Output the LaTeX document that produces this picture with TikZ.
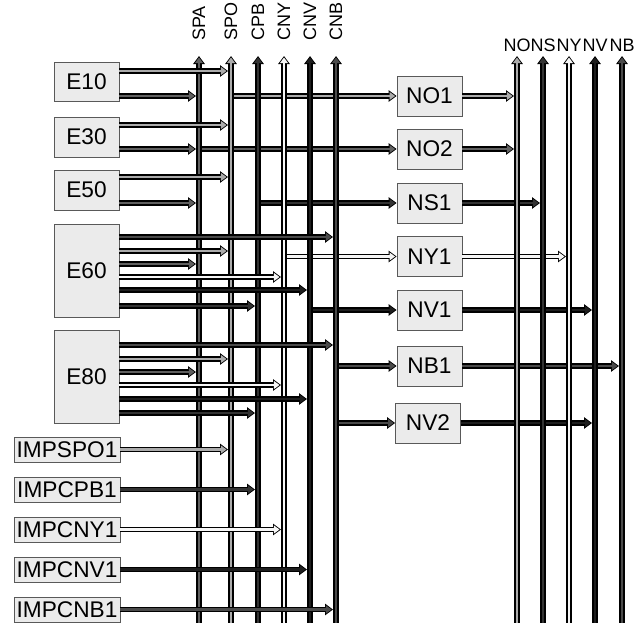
\documentclass[tikz,border=0pt]{standalone}
\usepackage{fontspec}
\setmainfont{Liberation Sans}
\usepackage{tikz}
\usetikzlibrary{arrows.meta}
\usepackage{xcolor}
\definecolor{cspa}{HTML}{606060}
\definecolor{cspo}{HTML}{ABABAB}
\definecolor{ccpb}{HTML}{333333}
\definecolor{ccny}{HTML}{F6F6F6}
\definecolor{ccnv}{HTML}{1E1E1E}
\definecolor{ccnb}{HTML}{4A4A4A}
\definecolor{boxgray}{HTML}{EBEBEB}

\begin{document}
\begin{tikzpicture}[
		x=0.75pt, y=-0.75pt,
		pipe/.style={
			preaction={draw=black, line width=3.9pt, shorten >=0pt,
				-{Triangle[length=6pt, width=8.4pt]}},
			draw=#1, line width=2.1pt, shorten >=1.1pt,
			-{Triangle[length=4.2pt, width=5.8pt]}},
		box/.style={draw=black!65, fill=boxgray, line width=0.6pt, inner sep=0pt,
			font=\fontsize{17}{20}\selectfont},
		lbl/.style={font=\fontsize{13.5}{15}\selectfont, inner sep=0pt}
	]

	\useasboundingbox (0,0) rectangle (634,622);

	\def\yTop{56}
	\def\tipgap{2.25pt}

	%% Bus positions
	\coordinate (SPA) at (199,\yTop);
	\coordinate (SPO) at (231,\yTop);
	\coordinate (CPB) at (258,\yTop);
	\coordinate (CNY) at (284,\yTop);
	\coordinate (CNV) at (310,\yTop);
	\coordinate (CNB) at (336,\yTop);
	\coordinate (NO) at (517,\yTop);
	\coordinate (NS) at (543,\yTop);
	\coordinate (NY) at (569,\yTop);
	\coordinate (NV) at (595,\yTop);
	\coordinate (NB) at (622,\yTop);
	\coordinate (bot) at (0,630);

	%% Bus labels
	\node[lbl, rotate=90, anchor=west] (tSPA) at (199,41) {SPA};
	\node[lbl, rotate=90, anchor=west] (tSPO) at (231,41) {SPO};
	\node[lbl, rotate=90, anchor=west] (tCPB) at (258,41) {CPB};
	\node[lbl, rotate=90, anchor=west] (tCNY) at (284,41) {CNY};
	\node[lbl, rotate=90, anchor=west] (tCNV) at (310,41) {CNV};
	\node[lbl, rotate=90, anchor=west] (tCNB) at (336,41) {CNB};
	\node[lbl] (tNO) at (517,45.5) {NO};
	\node[lbl] (tNS) at (543,45.5) {NS};
	\node[lbl] (tNY) at (569,45.5) {NY};
	\node[lbl] (tNV) at (595,45.5) {NV};
	\node[lbl] (tNB) at (622,45.5) {NB};

	%% Source boxes
	\node[box, minimum width=48.75pt, minimum height=29.25pt] (E10) at (86.5,81.5) {E10};
	\node[box, minimum width=48.75pt, minimum height=30pt] (E30) at (86.5,137) {E30};
	\node[box, minimum width=48.75pt, minimum height=30pt] (E50) at (86.5,190) {E50};
	\node[box, minimum width=48.75pt, minimum height=69.75pt] (E60) at (86.5,270.5) {E60};
	\node[box, minimum width=48.75pt, minimum height=69.75pt] (E80) at (86.5,376.5) {E80};
	\node[box, minimum width=79.5pt, minimum height=18.75pt] (IMPSPO1) at (67,449.5) {IMPSPO1};
	\node[box, minimum width=79.5pt, minimum height=18.75pt] (IMPCPB1) at (67,489.5) {IMPCPB1};
	\node[box, minimum width=79.5pt, minimum height=18.75pt] (IMPCNY1) at (67,529.5) {IMPCNY1};
	\node[box, minimum width=79.5pt, minimum height=18.75pt] (IMPCNV1) at (67,569.5) {IMPCNV1};
	\node[box, minimum width=79.5pt, minimum height=18.75pt] (IMPCNB1) at (67,609.5) {IMPCNB1};

	%% Middle boxes
	\node[box, minimum width=48.75pt, minimum height=30pt] (NO1) at (429.5,96) {NO1};
	\node[box, minimum width=48.75pt, minimum height=30pt] (NO2) at (429.5,149) {NO2};
	\node[box, minimum width=48.75pt, minimum height=30pt] (NS1) at (429.5,203) {NS1};
	\node[box, minimum width=48.75pt, minimum height=30pt] (NY1) at (429.5,256.5) {NY1};
	\node[box, minimum width=48.75pt, minimum height=30pt] (NV1) at (429.5,310) {NV1};
	\node[box, minimum width=48.75pt, minimum height=30pt] (NB1) at (429.5,366) {NB1};
	\node[box, minimum width=48.75pt, minimum height=30pt] (NV2) at (428,423) {NV2};

	%% Branches from the left buses
	\draw[pipe=cspo] (SPO |- NO1.west) -- (NO1.west);
	\draw[pipe=cspa] (SPA |- NO2.west) -- (NO2.west);
	\draw[pipe=ccpb] (CPB |- NS1.west) -- (NS1.west);
	\draw[pipe=ccny] (CNY |- NY1.west) -- (NY1.west);
	\draw[pipe=ccnv] (CNV |- NV1.west) -- (NV1.west);
	\draw[pipe=ccnb] (CNB |- NB1.west) -- (NB1.west);
	\draw[pipe=ccnb] (CNB |- NV2.west) -- (NV2.west);

	%% Left buses
	\draw[pipe=cspa] (SPA |- bot) -- (SPA);
	\draw[pipe=cspo] (SPO |- bot) -- (SPO);
	\draw[pipe=ccpb] (CPB |- bot) -- (CPB);
	\draw[pipe=ccny] (CNY |- bot) -- (CNY);
	\draw[pipe=ccnv] (CNV |- bot) -- (CNV);
	\draw[pipe=ccnb] (CNB |- bot) -- (CNB);

	%% Outputs to the right buses
	\draw[pipe=cspo] (NO1.east) -- ([xshift=-\tipgap]NO |- NO1.east);
	\draw[pipe=cspa] (NO2.east) -- ([xshift=-\tipgap]NO |- NO2.east);
	\draw[pipe=ccpb] (NS1.east) -- ([xshift=-\tipgap]NS |- NS1.east);
	\draw[pipe=ccny] (NY1.east) -- ([xshift=-\tipgap]NY |- NY1.east);
	\draw[pipe=ccnv] (NV1.east) -- ([xshift=-\tipgap]NV |- NV1.east);
	\draw[pipe=ccnb] (NB1.east) -- ([xshift=-\tipgap]NB |- NB1.east);
	\draw[pipe=ccnv] (NV2.east) -- ([xshift=-\tipgap]NV |- NV2.east);

	%% Right buses
	\draw[pipe=cspo] (NO |- bot) -- (NO);
	\draw[pipe=ccpb] (NS |- bot) -- (NS);
	\draw[pipe=ccny] (NY |- bot) -- (NY);
	\draw[pipe=ccnv] (NV |- bot) -- (NV);
	\draw[pipe=ccnb] (NB |- bot) -- (NB);

	%% E10, E30, E50
	\draw[pipe=cspo] (E10.east |- 0,71) -- ([xshift=-\tipgap]SPO |- 0,71);
	\draw[pipe=cspa] (E10.east |- 0,96) -- ([xshift=-\tipgap]SPA |- 0,96);
	\draw[pipe=cspo] (E30.east |- 0,125) -- ([xshift=-\tipgap]SPO |- 0,125);
	\draw[pipe=cspa] (E30.east |- 0,149) -- ([xshift=-\tipgap]SPA |- 0,149);
	\draw[pipe=cspo] (E50.east |- 0,177) -- ([xshift=-\tipgap]SPO |- 0,177);
	\draw[pipe=cspa] (E50.east |- 0,203) -- ([xshift=-\tipgap]SPA |- 0,203);

	%% E60
	\draw[pipe=ccnb] (E60.east |- 0,237) -- ([xshift=-\tipgap]CNB |- 0,237);
	\draw[pipe=cspo] (E60.east |- 0,251) -- ([xshift=-\tipgap]SPO |- 0,251);
	\draw[pipe=cspa] (E60.east |- 0,264) -- ([xshift=-\tipgap]SPA |- 0,264);
	\draw[pipe=ccny] (E60.east |- 0,277) -- ([xshift=-\tipgap]CNY |- 0,277);
	\draw[pipe=ccnv] (E60.east |- 0,290) -- ([xshift=-\tipgap]CNV |- 0,290);
	\draw[pipe=ccpb] (E60.east |- 0,306) -- ([xshift=-\tipgap]CPB |- 0,306);

	%% E80
	\draw[pipe=ccnb] (E80.east |- 0,345) -- ([xshift=-\tipgap]CNB |- 0,345);
	\draw[pipe=cspo] (E80.east |- 0,359) -- ([xshift=-\tipgap]SPO |- 0,359);
	\draw[pipe=cspa] (E80.east |- 0,372) -- ([xshift=-\tipgap]SPA |- 0,372);
	\draw[pipe=ccny] (E80.east |- 0,385) -- ([xshift=-\tipgap]CNY |- 0,385);
	\draw[pipe=ccnv] (E80.east |- 0,399) -- ([xshift=-\tipgap]CNV |- 0,399);
	\draw[pipe=ccpb] (E80.east |- 0,413) -- ([xshift=-\tipgap]CPB |- 0,413);

	%% Imports
	\draw[pipe=cspo] (IMPSPO1.east) -- ([xshift=-\tipgap]SPO |- IMPSPO1.east);
	\draw[pipe=ccpb] (IMPCPB1.east) -- ([xshift=-\tipgap]CPB |- IMPCPB1.east);
	\draw[pipe=ccny] (IMPCNY1.east) -- ([xshift=-\tipgap]CNY |- IMPCNY1.east);
	\draw[pipe=ccnv] (IMPCNV1.east) -- ([xshift=-\tipgap]CNV |- IMPCNV1.east);
	\draw[pipe=ccnb] (IMPCNB1.east) -- ([xshift=-\tipgap]CNB |- IMPCNB1.east);

\end{tikzpicture}
\end{document}
